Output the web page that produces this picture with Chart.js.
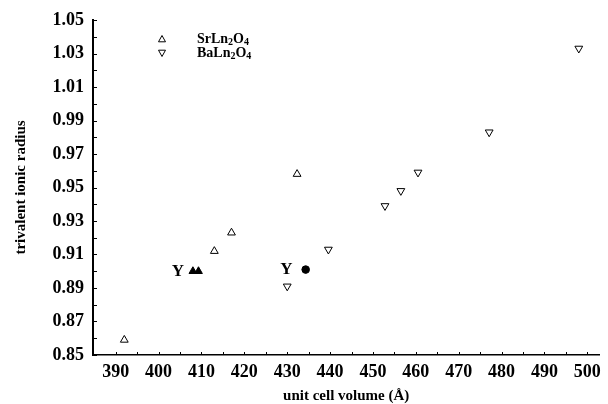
<!DOCTYPE html>
<html>
<head>
<meta charset="UTF-8">
<title>trivalent ionic radius vs unit cell volume</title>
<script src="https://cdn.jsdelivr.net/npm/chart.js"></script>
<style>
  html, body { margin: 0; padding: 0; background: #fff; }
  #wrap { width: 608px; height: 404px; }
</style>
</head>
<body>
<div id="wrap"><canvas id="c" width="608" height="404"></canvas></div>
<script>
  // SrLn2O4 (open up-triangles)
  const srVolume = [392, 413.0, 417.0, 432.3];
  const srRadius = [0.859, 0.912, 0.923, 0.958];
  // BaLn2O4 (open down-triangles)
  const baVolume = [430.0, 439.6, 452.8, 456.5, 460.5, 477.1, 498];
  const baRadius = [0.891, 0.913, 0.939, 0.948, 0.959, 0.983, 1.033];
  // Y compounds (filled)
  const srYVolume = [408.0, 409.3];
  const srYRadius = [0.900, 0.900];
  const baYVolume = [434.3];
  const baYRadius = [0.901];
  // "Y" text labels
  const yTextVolume = [404.5, 429.8];
  const yTextRadius = [0.900, 0.901];

  const xTicks = [390, 400, 410, 420, 430, 440, 450, 460, 470, 480, 490, 500];
  const xMinor = [395, 405, 415, 425, 435, 445, 455, 465, 475, 485, 495];
  const yTicks = [0.85, 0.87, 0.89, 0.91, 0.93, 0.95, 0.97, 0.99, 1.01, 1.03, 1.05];
  const yMinor = [0.86, 0.88, 0.90, 0.92, 0.94, 0.96, 0.98, 1.00, 1.02, 1.04];
  const seriesNames = ['SrLn', 'BaLn'];

  const serif = '"Liberation Serif", "DejaVu Serif", serif';

  function pts(xs, ys) { return xs.map((x, i) => ({x: x, y: ys[i]})); }

  // draws inward ticks, Y labels and the legend
  const extras = {
    id: 'extras',
    afterDraw(chart) {
      const ctx = chart.ctx;
      const xs = chart.scales.x, ys = chart.scales.y;
      ctx.save();
      ctx.strokeStyle = '#000';
      ctx.lineWidth = 1;
      yTicks.concat(yMinor).forEach(v => {
        const py = Math.round(ys.getPixelForValue(v)) + 0.5;
        ctx.beginPath(); ctx.moveTo(xs.left, py); ctx.lineTo(xs.left + 4, py); ctx.stroke();
      });
      xTicks.concat(xMinor).forEach(v => {
        const px = Math.round(xs.getPixelForValue(v)) + 0.5;
        ctx.beginPath(); ctx.moveTo(px, ys.bottom); ctx.lineTo(px, ys.bottom - 3); ctx.stroke();
      });

      // Y labels
      ctx.fillStyle = '#000';
      ctx.font = 'bold 17px ' + serif;
      ctx.textAlign = 'center';
      ctx.textBaseline = 'middle';
      yTextVolume.forEach((v, i) => {
        ctx.fillText('Y', xs.getPixelForValue(v), ys.getPixelForValue(yTextRadius[i]));
      });

      // legend
      const lx = 162, ly = [39, 53];
      ctx.lineWidth = 1;
      ly.forEach((y, i) => {
        const r = 3.5;
        ctx.beginPath();
        if (i === 0) {
          ctx.moveTo(lx, y - r); ctx.lineTo(lx + r, y + r * 0.8); ctx.lineTo(lx - r, y + r * 0.8);
        } else {
          ctx.moveTo(lx, y + r); ctx.lineTo(lx + r, y - r * 0.8); ctx.lineTo(lx - r, y - r * 0.8);
        }
        ctx.closePath(); ctx.stroke();
        // formula with subscripts
        let tx = 197;
        ctx.textAlign = 'left';
        ctx.textBaseline = 'alphabetic';
        const parts = [[seriesNames[i], false], ['2', true], ['O', false], ['4', true]];
        parts.forEach(p => {
          ctx.font = (p[1] ? 'bold 10px ' : 'bold 14px ') + serif;
          ctx.fillText(p[0], tx, y + 4 + (p[1] ? 2 : 0));
          tx += ctx.measureText(p[0]).width;
        });
      });
      ctx.restore();
    }
  };

  new Chart(document.getElementById('c'), {
    type: 'scatter',
    data: {
      datasets: [
        { label: 'SrLn2O4', data: pts(srVolume, srRadius), pointStyle: 'triangle',
          pointRadius: 4.5, borderColor: '#000', borderWidth: 1, backgroundColor: '#fff' },
        { label: 'BaLn2O4', data: pts(baVolume, baRadius), pointStyle: 'triangle', rotation: 180,
          pointRadius: 4.5, borderColor: '#000', borderWidth: 1, backgroundColor: '#fff' },
        { label: 'SrY2O4', data: pts(srYVolume, srYRadius), pointStyle: 'triangle',
          pointRadius: 4.5, borderColor: '#000', borderWidth: 1, backgroundColor: '#000' },
        { label: 'BaY2O4', data: pts(baYVolume, baYRadius), pointStyle: 'circle',
          pointRadius: 3.8, borderColor: '#000', borderWidth: 1, backgroundColor: '#000' }
      ]
    },
    options: {
      responsive: false,
      animation: false,
      layout: { padding: { left: 4, top: 20, right: 2, bottom: 0 } },
      plugins: { legend: { display: false }, tooltip: { enabled: false } },
      scales: {
        x: {
          type: 'linear', min: 384.7, max: 502.8,
          afterBuildTicks: s => { s.ticks = xTicks.map(v => ({value: v})); },
          afterFit: s => { s.height = 49; },
          grid: { display: false, drawTicks: false },
          border: { display: true, color: '#000', width: 1.5 },
          ticks: { color: '#000', padding: 7, maxRotation: 0, autoSkip: false,
                   font: { family: serif, size: 18, weight: 'bold' } },
          title: { display: true, text: 'unit cell volume (Å)', color: '#000',
                   padding: { top: 0, bottom: 0 },
                   font: { family: serif, size: 15, weight: 'bold', lineHeight: 1 } }
        },
        y: {
          type: 'linear', min: 0.85, max: 1.05,
          afterBuildTicks: s => { s.ticks = yTicks.map(v => ({value: v})); },
          afterFit: s => { s.width = 89; },
          grid: { display: false, drawTicks: false },
          border: { display: true, color: '#000', width: 2 },
          ticks: { color: '#000', padding: 9, autoSkip: false,
                   callback: v => v.toFixed(2),
                   font: { family: serif, size: 18, weight: 'bold' } },
          title: { display: true, text: 'trivalent ionic radius', color: '#000',
                   padding: { top: 8, bottom: 0 },
                   font: { family: serif, size: 15, weight: 'bold' } }
        }
      }
    },
    plugins: [extras]
  });
</script>
</body>
</html>
